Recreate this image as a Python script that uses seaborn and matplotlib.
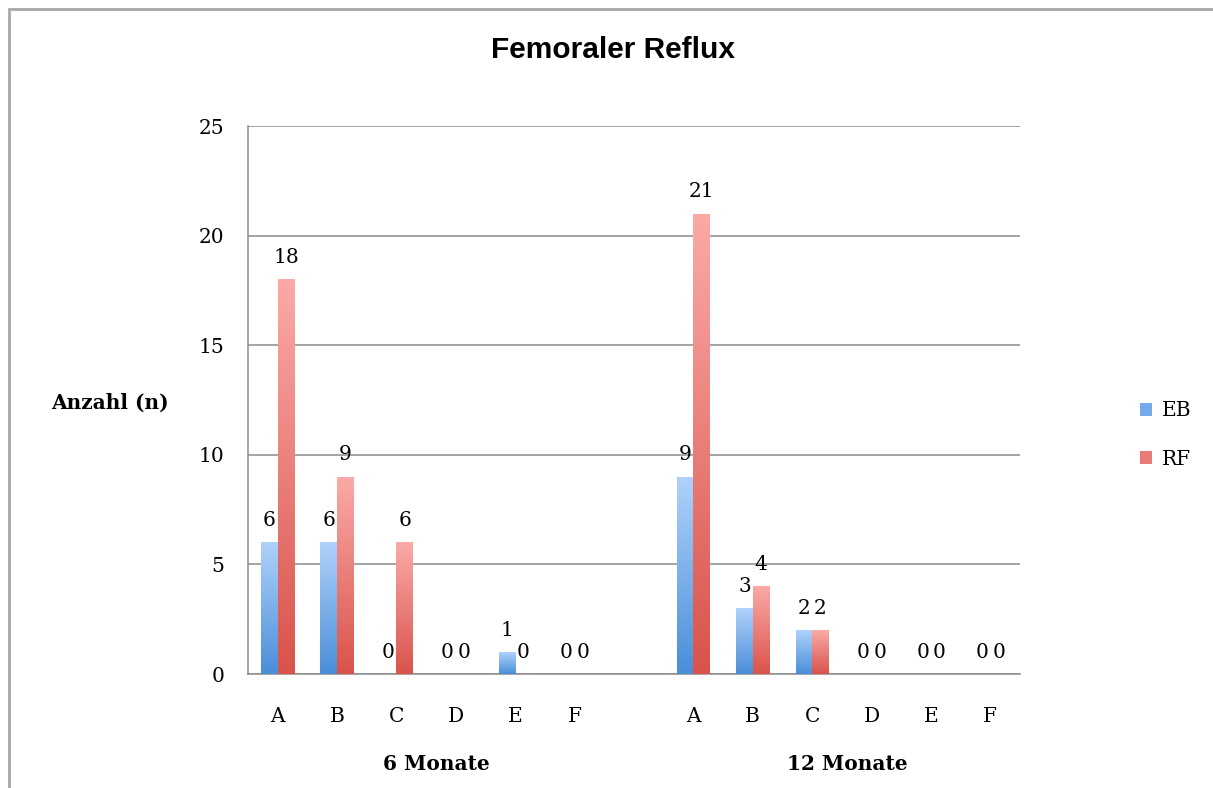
import numpy as np
import pandas as pd
import matplotlib
matplotlib.use("Agg")
import matplotlib.pyplot as plt
from matplotlib.patches import Rectangle, Patch
from matplotlib.colors import to_rgb
import seaborn as sns

# ---- data -------------------------------------------------------------
grades = ["A", "B", "C", "D", "E", "F"]
periods = ["6 Monate", "12 Monate"]
eb_6 = [6, 6, 0, 0, 1, 0]
rf_6 = [18, 9, 6, 0, 0, 0]
eb_12 = [9, 3, 2, 0, 0, 0]
rf_12 = [21, 4, 2, 0, 0, 0]
series = ["EB", "RF"]

rows = []
for period, eb, rf in [(periods[0], eb_6, rf_6), (periods[1], eb_12, rf_12)]:
    for g, v1, v2 in zip(grades, eb, rf):
        rows.append({"slot": f"{period}|{g}", "Gruppe": "EB", "n": v1})
        rows.append({"slot": f"{period}|{g}", "Gruppe": "RF", "n": v2})
df = pd.DataFrame(rows)

# 13 category slots: six grades, an empty spacer, six grades
order = [f"{periods[0]}|{g}" for g in grades] + ["_gap"] + [f"{periods[1]}|{g}" for g in grades]
tick_text = grades + [""] + grades

# ---- styling ----------------------------------------------------------
sns.set_style("white")
serif = ["DejaVu Serif", "Liberation Serif"]
plt.rcParams["font.family"] = serif
plt.rcParams["text.color"] = "black"
plt.rcParams["xtick.color"] = "black"
plt.rcParams["ytick.color"] = "black"

FS = 14.5

grad = {
    "EB": ("#afd2fb", "#4a8ed8"),
    "RF": ("#fbaaa7", "#d9534b"),
}

fig = plt.figure(figsize=(12.13, 7.88), dpi=100)
ax = fig.add_axes([248 / 1213, 1 - 674 / 788, (1020 - 248) / 1213, (674 - 126) / 788])

sns.barplot(data=df, x="slot", y="n", hue="Gruppe", order=order, hue_order=series,
            width=0.56, palette=[grad["EB"][1], grad["RF"][1]], ax=ax,
            legend=False, edgecolor="none", linewidth=0, zorder=3)

# vertical colour gradient inside each bar
for cont, name in zip(ax.containers, series):
    top, bottom = np.array(to_rgb(grad[name][0])), np.array(to_rgb(grad[name][1]))
    t = np.linspace(0, 1, 256)[:, None]
    img = (top * (1 - t) + bottom * t)[:, None, :]
    for p in cont.patches:
        h = p.get_height()
        if h <= 0:
            continue
        x0, w = p.get_x(), p.get_width()
        im = ax.imshow(img, extent=[x0, x0 + w, 0, h], aspect="auto",
                       origin="upper", zorder=3, interpolation="bilinear")
        im.set_clip_path(p)
        p.set_facecolor("none")
    ax.bar_label(cont, padding=9, fontsize=FS, family=serif, color="black")

ax.set_xlim(-0.5, len(order) - 0.5)
ax.set_ylim(0, 25)
ax.set_aspect("auto")

# axes, grid and ticks
ax.set_yticks([0, 5, 10, 15, 20, 25])
ax.yaxis.grid(True, color="#8c8c8c", linewidth=1.1, zorder=0)
ax.set_axisbelow(True)
for s in ["top", "right"]:
    ax.spines[s].set_visible(False)
for s in ["left", "bottom"]:
    ax.spines[s].set_color("#8c8c8c")
    ax.spines[s].set_linewidth(1.1)
ax.tick_params(axis="y", length=5, width=1.1, color="#8c8c8c", pad=12, labelsize=FS)

ax.set_xticks(range(len(order)))
ax.set_xticklabels(tick_text)
ax.set_xticks(np.arange(-0.5, len(order), 1.0), minor=True)
ax.tick_params(axis="x", which="major", length=0, pad=24, labelsize=FS)
ax.tick_params(axis="x", which="minor", length=6, width=1.1, color="#8c8c8c")
ax.set_xlabel("")
ax.set_ylabel("")

# period labels under the grade labels
for xpos, label in [(2.68, periods[0]), (9.6, periods[1])]:
    ax.text(xpos, -0.165, label, transform=ax.get_xaxis_transform(), ha="center",
            va="center", fontsize=FS, fontweight="bold", family=serif)

fig.text(110 / 1213, 1 - 403 / 788, "Anzahl (n)", ha="center", va="center",
         fontsize=FS, fontweight="bold", family=serif)

fig.text(613 / 1213, 1 - 50 / 788, "Femoraler Reflux", ha="center", va="center",
         fontsize=21.5, fontweight="bold", family=["Liberation Sans", "DejaVu Sans"])

handles = [Patch(facecolor="#75abea", edgecolor="none"),
           Patch(facecolor="#e97b77", edgecolor="none")]
fig.legend(handles, series, loc="center left", bbox_to_anchor=(1122 / 1213, 1 - 435 / 788),
           frameon=False, fontsize=FS, handlelength=0.6, handleheight=0.6,
           handletextpad=0.5, labelspacing=1.45)

# chart frame
fig.add_artist(Rectangle((9 / 1213, -0.2), 1.5, 1.2 - 9 / 788, transform=fig.transFigure,
                         fill=False, edgecolor="#a8a8a8", linewidth=2, clip_on=False))

fig.savefig("out.png", dpi=100)
